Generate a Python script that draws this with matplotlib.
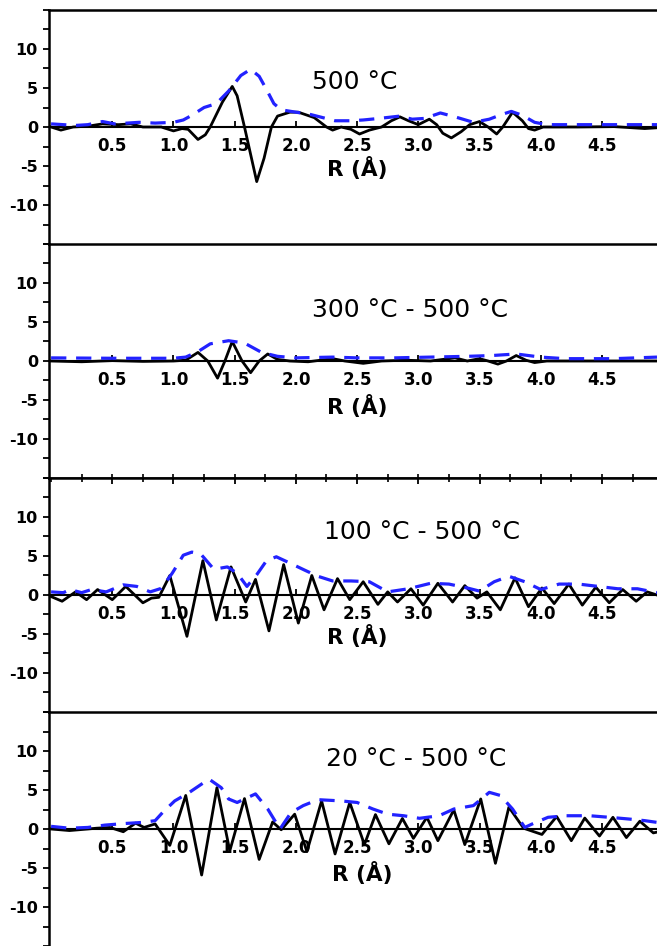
import matplotlib
matplotlib.use("Agg")
import matplotlib.pyplot as plt
from matplotlib.ticker import MultipleLocator
import numpy as np

plt.rcParams['font.family'] = ['DejaVu Sans']
plt.rcParams['axes.unicode_minus'] = False
plt.rcParams['lines.scale_dashes'] = False

# ---------------- data (R in Angstrom) ----------------
panel_titles = ["500 °C", "300 °C - 500 °C", "100 °C - 500 °C", "20 °C - 500 °C"]
x_ticks = [0.5, 1.0, 1.5, 2.0, 2.5, 3.0, 3.5, 4.0, 4.5]
y_ticks = [-10, -5, 0, 5, 10]

# Panel 1: 500 C
r1_real = [0.00, 0.08, 0.18, 0.30, 0.42, 0.55, 0.65, 0.75, 0.90, 1.00, 1.07, 1.12, 1.20, 1.26,
           1.30, 1.40, 1.48, 1.52, 1.58, 1.68, 1.74, 1.80, 1.85, 1.95, 2.02, 2.15, 2.25, 2.30,
           2.37, 2.45, 2.52, 2.60, 2.70, 2.78, 2.85, 2.92, 3.00, 3.09, 3.15, 3.20, 3.27, 3.35,
           3.42, 3.50, 3.57, 3.64, 3.69, 3.77, 3.85, 3.90, 3.95, 4.02, 4.30, 4.60, 4.85, 4.95]
v1_real = [0.0, -0.4, 0.0, 0.1, 0.4, 0.3, 0.4, 0.0, 0.0, -0.5, -0.2, -0.3, -1.6, -1.0,
           0.0, 3.2, 5.2, 4.0, 0.0, -7.0, -4.0, 0.0, 1.4, 1.9, 1.9, 1.2, 0.0, -0.4,
           0.0, -0.3, -0.9, -0.4, 0.0, 0.8, 1.3, 0.8, 0.3, 1.0, 0.3, -0.8, -1.4, -0.6,
           0.3, 0.7, 0.0, -0.9, 0.0, 1.9, 0.8, -0.2, -0.4, 0.0, 0.0, 0.05, -0.2, -0.1]
r1_mag = [0.00, 0.10, 0.20, 0.30, 0.42, 0.52, 0.62, 0.72, 0.85, 1.00, 1.08, 1.15, 1.25, 1.35,
          1.45, 1.55, 1.63, 1.70, 1.76, 1.82, 1.88, 2.00, 2.12, 2.22, 2.32, 2.45, 2.55, 2.68,
          2.85, 2.95, 3.05, 3.18, 3.30, 3.45, 3.58, 3.68, 3.76, 3.85, 3.95, 4.05, 4.30, 4.60, 4.95]
v1_mag = [0.4, 0.3, 0.2, 0.3, 0.7, 0.4, 0.5, 0.6, 0.5, 0.6, 0.9, 1.5, 2.5, 3.0,
          4.6, 6.6, 7.4, 6.5, 4.8, 3.0, 2.2, 1.9, 1.6, 1.2, 0.8, 0.8, 0.9, 1.1,
          1.4, 1.0, 1.1, 1.8, 1.3, 0.6, 1.0, 1.6, 2.0, 1.5, 0.6, 0.3, 0.3, 0.3, 0.3]

# Panel 2: 300 C - 500 C
r2_real = [0.00, 0.25, 0.50, 0.75, 1.00, 1.10, 1.20, 1.28, 1.36, 1.42, 1.48, 1.56, 1.63, 1.70,
           1.77, 1.85, 1.95, 2.10, 2.30, 2.40, 2.55, 2.70, 2.90, 3.10, 3.30, 3.40, 3.50, 3.57,
           3.65, 3.72, 3.80, 3.88, 3.95, 4.05, 4.50, 4.95]
v2_real = [0.0, -0.1, 0.05, -0.05, 0.0, 0.1, 1.1, 0.0, -2.2, 0.0, 2.5, 0.0, -1.5, 0.0,
           0.9, 0.2, 0.0, -0.1, 0.3, 0.0, -0.3, 0.0, 0.1, 0.0, 0.4, 0.0, 0.3, 0.0,
           -0.4, 0.0, 0.7, 0.1, -0.2, 0.0, 0.0, 0.0]
r2_mag = [0.00, 0.50, 1.00, 1.10, 1.20, 1.30, 1.45, 1.58, 1.72, 1.85, 2.00, 2.30, 2.50, 2.80,
          3.10, 3.40, 3.60, 3.80, 4.00, 4.20, 4.60, 4.95]
v2_mag = [0.4, 0.35, 0.35, 0.5, 1.2, 2.2, 2.6, 2.3, 1.1, 0.6, 0.4, 0.5, 0.4, 0.4,
          0.5, 0.6, 0.7, 0.9, 0.5, 0.3, 0.3, 0.5]

# Panel 3: 100 C - 500 C
r3_real = [0.00, 0.09, 0.20, 0.29, 0.38, 0.50, 0.61, 0.75, 0.82, 0.88, 0.97, 1.11, 1.24, 1.35,
           1.47, 1.59, 1.67, 1.78, 1.90, 2.02, 2.13, 2.23, 2.34, 2.44, 2.55, 2.67, 2.75, 2.83,
           2.94, 3.04, 3.16, 3.28, 3.38, 3.48, 3.56, 3.67, 3.79, 3.90, 4.01, 4.11, 4.23, 4.34,
           4.45, 4.56, 4.67, 4.78, 4.87, 4.95]
v3_real = [-0.2, -0.8, 0.4, -0.6, 0.7, -0.6, 1.1, -1.0, -0.4, -0.3, 2.5, -5.3, 4.4, -3.2,
           3.6, -0.9, 2.0, -4.6, 3.9, -3.6, 2.5, -1.9, 2.1, -0.6, 1.7, -1.2, 0.4, -0.9,
           0.8, -1.3, 1.5, -0.9, 1.2, -0.4, 0.4, -1.9, 2.2, -1.5, 0.9, -1.1, 1.4, -1.3,
           1.0, -1.0, 0.7, -0.8, 0.4, 0.0]
r3_mag = [0.00, 0.10, 0.155, 0.25, 0.33, 0.45, 0.59, 0.70, 0.81, 0.90, 0.99, 1.08, 1.15, 1.22,
          1.33, 1.44, 1.52, 1.60, 1.68, 1.76, 1.84, 1.95, 2.07, 2.18, 2.30, 2.45, 2.60, 2.75,
          2.92, 3.10, 3.25, 3.40, 3.50, 3.62, 3.74, 3.87, 4.00, 4.15, 4.31, 4.47, 4.63, 4.79, 4.95]
v3_mag = [0.4, 0.3, 0.7, 0.3, 0.7, 0.4, 1.3, 1.1, 0.4, 0.85, 2.8, 5.1, 5.5, 5.3,
          3.3, 3.6, 2.8, 1.1, 2.6, 4.4, 4.9, 4.1, 3.2, 2.4, 1.8, 1.8, 1.7, 0.4,
          0.8, 1.5, 1.4, 0.9, 0.5, 1.7, 2.4, 1.7, 0.7, 1.4, 1.4, 1.1, 0.8, 0.8, 0.3]

# Panel 4: 20 C - 500 C
r4_real = [0.00, 0.15, 0.30, 0.37, 0.48, 0.59, 0.69, 0.76, 0.85, 0.97, 1.10, 1.23, 1.355, 1.46,
           1.58, 1.70, 1.81, 1.88, 1.99, 2.09, 2.21, 2.32, 2.44, 2.56, 2.65, 2.76, 2.87, 2.96,
           3.07, 3.16, 3.29, 3.38, 3.51, 3.63, 3.74, 3.86, 4.01, 4.13, 4.25, 4.36, 4.48, 4.59,
           4.70, 4.81, 4.92, 4.95]
v4_real = [0.0, -0.2, 0.0, 0.1, 0.2, -0.35, 0.75, 0.2, 0.65, -2.1, 4.3, -5.9, 5.3, -2.8,
           3.9, -3.9, 0.9, -0.1, 1.9, -2.9, 3.6, -3.2, 3.4, -2.0, 1.85, -1.9, 1.35, -1.2,
           1.5, -1.5, 2.45, -2.0, 3.85, -4.4, 2.8, 0.1, -0.7, 1.6, -1.5, 1.4, -0.9, 1.5,
           -1.1, 1.0, -0.5, -0.4]
r4_mag = [0.00, 0.15, 0.30, 0.44, 0.60, 0.75, 0.85, 0.91, 1.01, 1.13, 1.29, 1.39, 1.45, 1.52,
          1.67, 1.77, 1.87, 1.96, 2.06, 2.18, 2.37, 2.50, 2.63, 2.75, 2.88, 3.01, 3.17, 3.29,
          3.45, 3.58, 3.67, 3.77, 3.87, 3.93, 4.06, 4.21, 4.40, 4.56, 4.72, 4.85, 4.95]
v4_mag = [0.34, 0.1, 0.2, 0.5, 0.7, 0.85, 1.07, 2.1, 3.6, 4.7, 6.4, 5.3, 3.85, 3.4,
          4.5, 2.56, 0.0, 2.1, 3.0, 3.76, 3.6, 3.4, 2.56, 1.9, 1.7, 1.37, 1.7, 2.56,
          3.0, 4.7, 4.3, 2.56, 0.2, 0.64, 1.5, 1.7, 1.7, 1.5, 1.28, 1.07, 0.85]

panels = [
    (r1_real, v1_real, r1_mag, v1_mag),
    (r2_real, v2_real, r2_mag, v2_mag),
    (r3_real, v3_real, r3_mag, v3_mag),
    (r4_real, v4_real, r4_mag, v4_mag),
]

# ---------------- layout ----------------
W, H = 657, 946
fig = plt.figure(figsize=(W / 100, H / 100), dpi=100)
left_px, top_px, panel_h, panel_w = 49, 10, 234, 608

title_pos = [(2.13, 5.8), (2.13, 6.5), (2.23, 8.1), (2.25, 9.0)]
rlabel_pos = [(2.50, -5.3), (2.50, -5.8), (2.50, -5.3), (2.54, -5.7)]

for k, (rr, vr, rm, vm) in enumerate(panels):
    bottom = 1 - (top_px + panel_h * (k + 1)) / H
    ax = fig.add_axes([left_px / W, bottom, panel_w / W, panel_h / H])
    ax.set_xlim(-0.017, 4.95)
    ax.set_ylim(-15, 15)

    ax.plot(rr, vr, color='black', lw=2.0, solid_joinstyle='round', zorder=3)
    ax.plot(rm, vm, color='#2222ff', lw=2.3, dashes=(11, 7), zorder=4)

    ax.spines['right'].set_visible(False)
    ax.spines['bottom'].set_position(('data', 0))
    ax.spines['bottom'].set_linewidth(1.5)
    ax.spines['bottom'].set_zorder(2)
    ax.spines['left'].set_linewidth(1.8)
    ax.spines['top'].set_linewidth(1.8)

    ax.set_xticks(x_ticks)
    ax.set_xticklabels([f"{t:.1f}" for t in x_ticks])
    ax.set_yticks(y_ticks)
    ax.set_yticklabels([str(t) for t in y_ticks])
    ax.yaxis.set_minor_locator(MultipleLocator(2.5))
    ax.tick_params(axis='x', which='major', direction='in', length=4, width=1.3,
                   pad=7.5, labelsize=12, top=False)
    ax.tick_params(axis='y', which='both', direction='out', length=4, width=1.3,
                   pad=4, labelsize=11.5)
    for lbl in ax.get_xticklabels() + ax.get_yticklabels():
        lbl.set_fontweight('bold')

    if k == 2:
        ax.xaxis.set_minor_locator(MultipleLocator(0.25))
        ax.tick_params(axis='x', which='minor', bottom=False, top=True,
                       direction='in', length=3, width=1.2)
        ax.tick_params(axis='x', which='major', top=True)
    if k == 1:
        sec = ax.secondary_xaxis(0.0)
        sec.set_xticks(np.arange(0.25, 4.95, 0.25))
        sec.tick_params(direction='in', length=3, width=1.2, labelbottom=False)
        sec.spines['bottom'].set_linewidth(1.8)

    tx, ty = title_pos[k]
    ax.text(tx, ty, panel_titles[k], ha='left', va='center', fontsize=18)
    lx, ly = rlabel_pos[k]
    ax.text(lx, ly, "R (Å)", ha='center', va='center', fontsize=15.5, fontweight='bold')

fig.savefig("out.png", dpi=100)
